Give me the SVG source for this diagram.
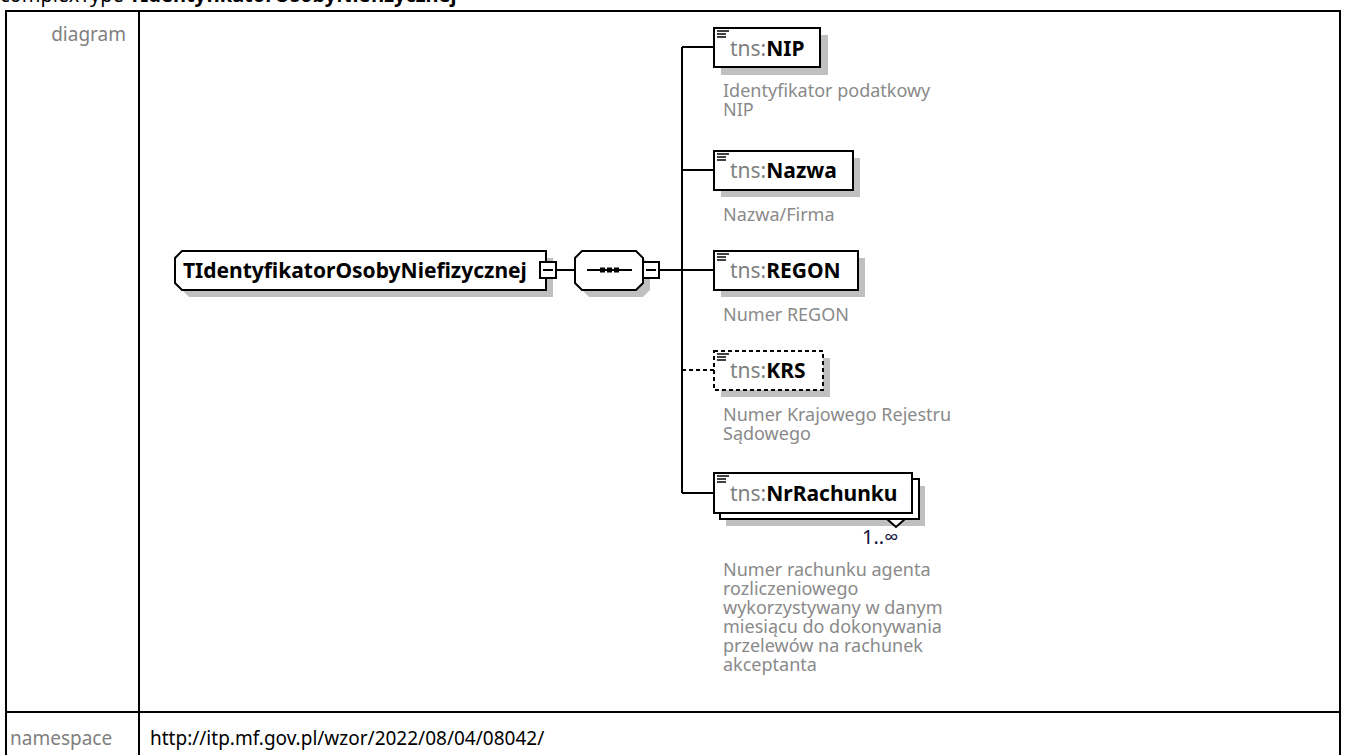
<svg xmlns="http://www.w3.org/2000/svg" width="1346" height="755" viewBox="0 0 1346 755">
<style>
.tbl{fill:none;stroke:#000;stroke-width:2}
.lbl{font-family:"Noto Sans","Open Sans",sans-serif;font-size:19px;fill:#808080}
.url{font-family:"Noto Sans","Open Sans",sans-serif;font-size:19px;fill:#000}
.title{font-family:"Noto Sans","Open Sans",sans-serif;font-size:20px;fill:#000}
.box{fill:#fff;stroke:#000;stroke-width:2}
.dash{fill:#fff;stroke:#000;stroke-width:2;stroke-dasharray:4,3}
.shadow{fill:#c0c0c0;stroke:none}
.name{font-family:"Noto Sans","Open Sans",sans-serif;font-size:21px;fill:#000}
.pfx{fill:#808080;font-weight:normal}
.b{font-weight:bold}
.desc{font-family:"Noto Sans","Open Sans",sans-serif;font-size:18px;fill:#8a8a8a}
.conn{stroke:#000;stroke-width:2;fill:none}
.conn-d{stroke:#000;stroke-width:2;fill:none;stroke-dasharray:4,3}
.icon{stroke:#000;stroke-width:1.5}
.mult{font-family:"Noto Sans","Open Sans",sans-serif;font-size:20px;fill:#10103a}
</style>
<defs>
<g id="doc"><line class="icon" x1="0" y1="0" x2="12" y2="0"/><line class="icon" x1="0" y1="3" x2="9" y2="3"/><line class="icon" x1="0" y1="6" x2="9" y2="6"/></g>
</defs>
<rect width="1346" height="755" fill="#fff"/>
<text class="title" x="0" y="2">complexType <tspan font-weight="bold">TIdentyfikatorOsobyNiefizycznej</tspan></text>
<g id="table">
<rect class="tbl" x="6" y="11" width="1334" height="760"/>
<line class="tbl" x1="139" y1="11" x2="139" y2="771"/>
<line class="tbl" x1="6" y1="712" x2="1340" y2="712"/>
<text class="lbl" x="126" y="41" text-anchor="end">diagram</text>
<text class="lbl" x="10" y="745">namespace</text>
<text class="url" x="150" y="745">http://itp.mf.gov.pl/wzor/2022/08/04/08042/</text>
</g>
<g id="connectors">
<line class="conn" x1="556" y1="270" x2="575" y2="270"/>
<line class="conn" x1="659" y1="270" x2="682" y2="270"/>
<line class="conn" x1="682" y1="47" x2="682" y2="493"/>
<line class="conn" x1="682" y1="47" x2="714" y2="47"/>
<line class="conn" x1="682" y1="170" x2="714" y2="170"/>
<line class="conn" x1="682" y1="270" x2="714" y2="270"/>
<line class="conn-d" x1="682" y1="370" x2="714" y2="370"/>
<line class="conn" x1="682" y1="493" x2="714" y2="493"/>
</g>
<g id="node-root">
<path class="shadow" d="M189,258 H553 V297 H189 L182,290 V265 Z"/>
<path class="box" d="M182,251 H546 V290 H182 L175,283 V258 Z"/>
<text class="name b" x="183" y="278" font-size="20">TIdentyfikatorOsobyNiefizycznej</text>
<rect class="box" x="540" y="262" width="16" height="16" stroke-width="1.5"/>
<line class="conn" x1="543" y1="270" x2="553" y2="270" stroke-width="1.5"/>
</g>
<g id="node-sequence">
<path class="shadow" d="M589,258 H643 L650,265 V290 L643,297 H589 L582,290 V265 Z"/>
<path class="box" d="M582,251 H636 L643,258 V283 L636,290 H582 L575,283 V258 Z"/>
<line class="conn" x1="587" y1="270" x2="632" y2="270" stroke-width="1.5"/>
<rect x="600" y="267.5" width="5" height="5" fill="#000"/>
<rect x="607" y="267.5" width="5" height="5" fill="#000"/>
<rect x="614" y="267.5" width="5" height="5" fill="#000"/>
<rect class="box" x="643" y="262" width="16" height="16" stroke-width="1.5"/>
<line class="conn" x1="646" y1="270" x2="656" y2="270" stroke-width="1.5"/>
</g>
<g id="node-NIP">
<rect class="shadow" x="721" y="35" width="107" height="40"/>
<rect class="box" x="714" y="28" width="106" height="39"/>
<use href="#doc" x="717" y="31"/>
<text class="name" x="730" y="56"><tspan class="pfx">tns:</tspan><tspan class="b">NIP</tspan></text>
<text class="desc" x="723" y="97">Identyfikator podatkowy</text>
<text class="desc" x="723" y="116">NIP</text>
</g>
<g id="node-Nazwa">
<rect class="shadow" x="721" y="158" width="139" height="39"/>
<rect class="box" x="714" y="151" width="139" height="39"/>
<use href="#doc" x="717" y="154"/>
<text class="name" x="730" y="178"><tspan class="pfx">tns:</tspan><tspan class="b">Nazwa</tspan></text>
<text class="desc" x="723" y="221">Nazwa/Firma</text>
</g>
<g id="node-REGON">
<rect class="shadow" x="721" y="258" width="144" height="39"/>
<rect class="box" x="714" y="251" width="144" height="39"/>
<use href="#doc" x="717" y="254"/>
<text class="name" x="730" y="278"><tspan class="pfx">tns:</tspan><tspan class="b">REGON</tspan></text>
<text class="desc" x="723" y="321">Numer REGON</text>
</g>
<g id="node-KRS">
<rect class="shadow" x="721" y="358" width="109" height="39"/>
<rect class="dash" x="714" y="351" width="109" height="39"/>
<use href="#doc" x="717" y="354"/>
<text class="name" x="730" y="378"><tspan class="pfx">tns:</tspan><tspan class="b">KRS</tspan></text>
<text class="desc" x="723" y="421">Numer Krajowego Rejestru</text>
<text class="desc" x="723" y="440">Sądowego</text>
</g>
<g id="node-NrRachunku">
<rect class="shadow" x="726" y="486" width="199" height="40"/>
<rect class="box" x="720" y="479" width="199" height="40"/>
<polygon class="box" points="887,519 896,527 905,519" stroke-width="1.5"/>
<rect class="box" x="714" y="473" width="198" height="40"/>
<use href="#doc" x="717" y="476"/>
<text class="name" x="730" y="501"><tspan class="pfx">tns:</tspan><tspan class="b">NrRachunku</tspan></text>
<text class="mult" x="862" y="544">1..∞</text>
<text class="desc" x="723" y="576">Numer rachunku agenta</text>
<text class="desc" x="723" y="595">rozliczeniowego</text>
<text class="desc" x="723" y="614">wykorzystywany w danym</text>
<text class="desc" x="723" y="633">miesiącu do dokonywania</text>
<text class="desc" x="723" y="652">przelewów na rachunek</text>
<text class="desc" x="723" y="671">akceptanta</text>
</g>
</svg>
